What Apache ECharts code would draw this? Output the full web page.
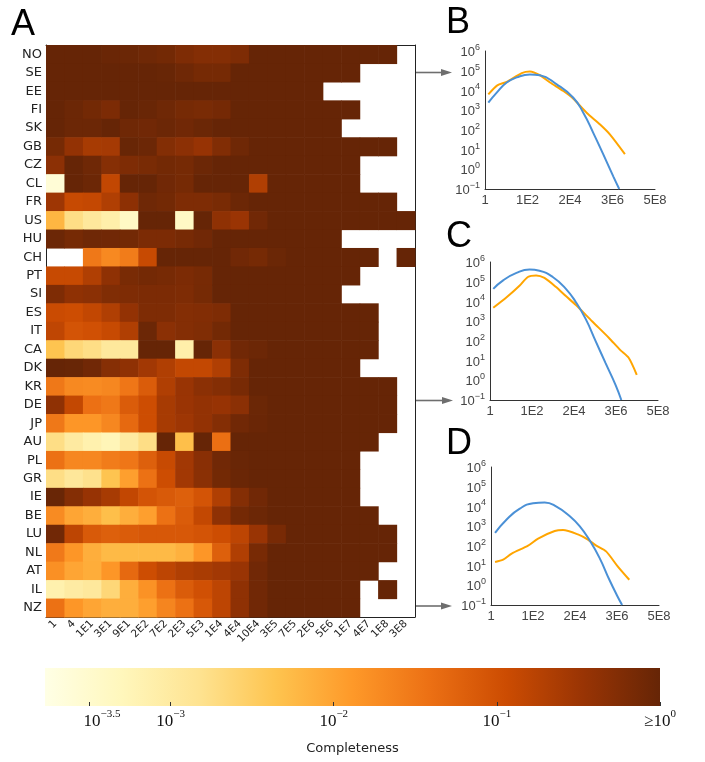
<!DOCTYPE html>
<html><head><meta charset="utf-8">
<script src="https://cdn.jsdelivr.net/npm/echarts@6/dist/echarts.min.js"></script>
<style>html,body{margin:0;padding:0;background:#fff}#c{width:705px;height:762px}</style>
</head><body><div id="c"></div>
<script>
// ---------- Panel A: heatmap (log10 completeness; null = no data) ----------
const countries = ['NO','SE','EE','FI','SK','GB','CZ','CL','FR','US','HU','CH','PT','SI','ES','IT','CA','DK','KR','DE','JP','AU','PL','GR','IE','BE','LU','NL','AT','IL','NZ'];
const sizeBins = ['1','4','1E1','3E1','9E1','2E2','7E2','2E3','5E3','1E4','4E4','10E4','3E5','7E5','2E6','5E6','1E7','4E7','1E8','3E8'];

const NO = [0,0,0,-0.04,-0.05,-0.08,-0.12,-0.22,-0.28,-0.28,-0.22,0,0,0,0,0,0,0,0];
const SE = [0,0,0,0,0,0,-0.02,-0.08,-0.15,-0.15,0,0,0,0,0,0,0];
const EE = [0,0,0,0,0,0,0,0,0,0,0,0,0,0,0];
const FI = [0,-0.06,-0.12,-0.2,0,-0.03,-0.08,-0.15,-0.18,-0.14,0,0,0,0,0,0,0];
const SK = [0,-0.06,-0.06,0,-0.08,-0.1,-0.06,-0.1,-0.05,0,0,0,0,0,0,0];
const GB = [-0.15,-0.42,-0.6,-0.58,-0.02,-0.06,-0.27,-0.35,-0.45,-0.25,-0.08,0,0,0,0,0,0,0,0];
const CZ = [-0.35,0,-0.08,-0.3,-0.22,-0.18,-0.12,-0.15,-0.06,0,0,0,0,0,0,0,0];
const CL = [-3.6,0,-0.06,-0.85,0,0,-0.1,-0.15,0,0,0,-0.68,0,0,0,0,0];
const FR = [-0.52,-0.9,-0.87,-0.68,-0.36,-0.08,-0.12,-0.22,-0.22,-0.18,-0.06,0,0,0,0,0,0,0,0];
const US = [-2.2,-2.75,-2.95,-3.1,-3.4,0,0,-3.4,0,-0.38,-0.48,-0.1,0,0,0,0,0,0,0,0];
const HU = [-0.06,-0.15,-0.08,-0.1,-0.12,-0.2,-0.2,-0.16,-0.1,0,0,0,0,0,0,0];
const CH = [null,null,-1.5,-1.7,-1.55,-0.9,0,0,0,0,-0.1,-0.15,-0.05,0,0,0,0,0,null,0];
const PT = [-0.9,-0.9,-0.68,-0.38,-0.18,-0.13,-0.16,-0.2,-0.16,0,0,0,0,0,0,0,0];
const SI = [-0.22,-0.38,-0.34,-0.24,-0.22,-0.2,-0.2,-0.22,-0.15,0,0,0,0,0,0,0];
const ES = [-0.92,-0.95,-0.85,-0.68,-0.42,-0.22,-0.22,-0.28,-0.26,-0.22,0,0,0,0,0,0,0,0];
const IT = [-0.82,-1.05,-1.0,-0.9,-0.68,-0.06,-0.34,-0.28,-0.24,-0.12,0,0,0,0,0,0,0,0];
const CA = [-2.36,-2.65,-2.75,-2.95,-2.95,0,0,-3.1,0,-0.34,-0.1,-0.06,0,0,0,0,0,0];
const DK = [0,-0.02,-0.1,-0.3,-0.38,-0.55,-0.68,-0.86,-0.86,-0.68,-0.22,0,0,0,0,0,0];
const KR = [-1.5,-1.7,-1.72,-1.68,-1.48,-1.15,-0.68,-0.47,-0.34,-0.28,-0.17,0,0,0,0,0,0,0,0];
const DE = [-0.38,-0.86,-1.41,-1.5,-1.15,-0.95,-0.6,-0.48,-0.42,-0.45,-0.34,-0.05,0,0,0,0,0,0,0];
const JP = [-1.5,-1.85,-1.85,-1.68,-1.32,-0.95,-0.6,-0.52,-0.42,-0.28,-0.1,-0.04,0,0,0,0,0,0,0];
const AU = [-2.75,-3.0,-3.15,-3.25,-3.0,-2.75,0,-2.3,0,-1.4,0,0,0,0,0,0,0,0];
const PL = [-1.42,-1.68,-1.68,-1.55,-1.48,-1.2,-0.9,-0.55,-0.32,-0.1,-0.03,0,0,0,0,0,0];
const GR = [-2.75,-2.93,-2.8,-2.36,-1.95,-1.42,-0.95,-0.55,-0.33,-0.12,-0.04,0,0,0,0,0,0];
const IE = [-0.03,-0.28,-0.45,-0.6,-0.85,-1.05,-1.12,-1.2,-1.05,-0.68,-0.28,-0.1,0,0,0,0,0];
const BE = [-1.72,-2.02,-2.12,-2.3,-2.12,-1.95,-1.42,-1.15,-0.86,-0.38,-0.13,-0.06,0,0,0,0,0,0];
const LU = [-0.1,-0.8,-1.12,-1.2,-1.15,-1.1,-1.1,-1.1,-1.05,-0.95,-0.8,-0.47,-0.17,0,0,0,0,0,0];
const NL = [-1.52,-1.85,-2.12,-2.25,-2.25,-2.25,-2.25,-2.15,-1.85,-1.2,-0.68,-0.17,0,0,0,0,0,0,0];
const AT = [-1.78,-2.02,-2.1,-1.85,-1.32,-0.95,-0.8,-0.68,-0.62,-0.55,-0.47,-0.1,0,0,0,0,0,0];
const IL = [-3.15,-3.02,-2.95,-2.65,-2.12,-1.8,-1.42,-1.15,-1.0,-0.8,-0.38,-0.1,0,0,0,0,0,null,0];
const NZ = [-1.42,-1.85,-2.02,-2.12,-2.12,-1.95,-1.65,-1.42,-1.1,-0.8,-0.38,-0.1,0,0,0,0,0];

const countryRows = [NO,SE,EE,FI,SK,GB,CZ,CL,FR,US,HU,CH,PT,SI,ES,IT,CA,DK,KR,DE,JP,AU,PL,GR,IE,BE,LU,NL,AT,IL,NZ];

// colour scale (log10 completeness) and colour bar ticks
const colorMin = -3.77;
const colorMax = 0;
const colorTicks = [-3.5, -3, -2, -1, 0];
const colorTickLabelShift = [0.08, 0, 0, 0, 0];
const ylOrBr = ['#ffffe5','#fff7bc','#fee391','#fec44f','#fe9929','#ec7014','#cc4c02','#993404','#662506'];

// ---------- Panels B, C, D: log10(size) vs log10(count) ----------
const bBlueX = [0.17,0.6,1.11,1.62,2.3,2.81,3.67,4.52,5.03,5.54,6.06,6.57,6.87];
const bBlueY = [3.38,3.89,4.40,4.66,4.81,4.77,4.31,3.63,2.87,1.85,0.74,-0.37,-1.0];
const bOrangeX = [0.17,0.63,1.11,1.88,2.3,2.81,3.33,4.01,4.52,5.2,5.89,6.4,7.16];
const bOrangeY = [3.80,4.26,4.43,4.88,4.96,4.77,4.40,3.97,3.58,2.87,2.27,1.76,0.77];

const cBlueX = [0.17,0.68,1.37,2.05,2.56,3.25,3.93,4.45,4.96,5.47,5.98,6.5,6.8];
const cBlueY = [4.64,5.07,5.45,5.62,5.56,5.24,4.64,3.96,3.10,1.99,0.88,-0.23,-1.0];
const cOrangeX = [0.17,0.86,1.54,1.96,2.39,2.82,3.42,3.93,4.45,5.3,6.15,6.75,7.18,7.6];
const cOrangeY = [3.68,4.21,4.81,5.24,5.32,5.19,4.73,4.27,3.82,2.98,2.16,1.53,1.14,0.28];

const dBlueX = [0.21,0.81,1.49,2.18,2.78,3.39,4.07,4.59,5.1,5.62,6.13,6.56,6.79];
const dBlueY = [2.66,3.34,3.89,4.16,4.20,3.99,3.51,3.00,2.29,1.39,0.28,-0.58,-1.0];
const dOrangeX = [0.21,0.63,1.07,1.92,2.44,3.3,3.73,4.5,5.02,5.45,5.96,6.56,7.16];
const dOrangeY = [1.18,1.30,1.61,2.01,2.37,2.75,2.80,2.58,2.32,2.01,1.72,0.96,0.28];

const sizeLogMax = 8.7;       // 5E8
const sizeTickStep = 2.175;   // 1, 1E2, 2E4, 3E6, 5E8
const countLogMin = -1, countLogMax = 6;

// ---------- build ----------
const heatData = [];
countryRows.forEach((row, r) => row.forEach((v, c) => { if (v !== null) heatData.push([c, r, v]); }));
const zip = (a, b) => a.map((v, i) => [v, b[i]]);

const SANS = 'Liberation Sans';
const supMinus = s => String(s).replace('-', '\u2212');
const sizeLabel = v => {
  if (Math.abs(v) < 1e-9) return '1';
  const e = Math.floor(v + 1e-9);
  const m = Math.floor(Math.pow(10, v - e) + 1e-9);
  return m + 'E' + e;
};
const countLabel = v => '{b|10}{s|' + supMinus(Math.round(v)) + '}';
const countRich = {
  b: {fontSize: 13, color: '#444', fontFamily: SANS, lineHeight: 16, verticalAlign: 'bottom'},
  s: {fontSize: 9, color: '#444', fontFamily: SANS, lineHeight: 9, verticalAlign: 'top'}
};

const lineGrids = [
  {left: 485, top: 51, width: 170, height: 138},
  {left: 490, top: 262, width: 168, height: 138},
  {left: 491, top: 467, width: 168, height: 138}
];

const grids = [{left: 46, top: 45, width: 369, height: 572}].concat(lineGrids).concat([{left: 45, top: 668, width: 615, height: 38}]);

const xAxes = [
  {type: 'category', gridIndex: 0, data: sizeBins, position: 'bottom',
   axisLine: {lineStyle: {color: '#222', width: 1}},
   axisTick: {inside: true, alignWithLabel: true, length: 4, lineStyle: {color: '#333'}},
   axisLabel: {rotate: 45, fontSize: 10.5, color: '#222', fontFamily: 'DejaVu Sans', margin: 5, interval: 0}},
  {type: 'category', gridIndex: 0, data: sizeBins, position: 'top',
   axisLine: {lineStyle: {color: '#222', width: 1}},
   axisTick: {inside: true, alignWithLabel: true, length: 4, lineStyle: {color: '#333'}},
   axisLabel: {show: false}}
];
const yAxes = [
  {type: 'category', gridIndex: 0, data: countries, inverse: true, position: 'left',
   axisLine: {lineStyle: {color: '#222', width: 1}},
   axisTick: {inside: true, alignWithLabel: true, length: 4, lineStyle: {color: '#333'}},
   axisLabel: {fontSize: 13, color: '#222', fontFamily: 'DejaVu Sans', margin: 4, interval: 0}},
  {type: 'category', gridIndex: 0, data: countries, inverse: true, position: 'right',
   axisLine: {lineStyle: {color: '#222', width: 1}},
   axisTick: {inside: true, alignWithLabel: true, length: 4, lineStyle: {color: '#333'}},
   axisLabel: {show: false}}
];
[1,2,3].forEach(g => {
  xAxes.push({type: 'value', gridIndex: g, min: 0, max: sizeLogMax, interval: sizeTickStep,
    axisLine: {onZero: false, lineStyle: {color: '#333', width: 1}}, axisTick: {show: false}, splitLine: {show: false},
    axisLabel: {formatter: sizeLabel, fontSize: 13, color: '#444', fontFamily: SANS, margin: 5, showMaxLabel: true, showMinLabel: true}});
  yAxes.push({type: 'value', gridIndex: g, min: countLogMin, max: countLogMax, interval: 1,
    axisLine: {show: true, onZero: false, lineStyle: {color: '#333', width: 1}}, axisTick: {show: false}, splitLine: {show: false},
    axisLabel: {formatter: countLabel, rich: countRich, margin: 5}});
});
// colour bar axes
const labelVals = colorTicks.map((t, i) => t + colorTickLabelShift[i]);
xAxes.push({type: 'value', gridIndex: 4, min: colorMin, max: colorMax, z: 10,
  axisLine: {show: false}, splitLine: {show: false},
  axisTick: {show: true, inside: true, length: 4, customValues: colorTicks, lineStyle: {color: '#333'}},
  axisLabel: {customValues: labelVals, margin: 3, showMaxLabel: true,
    formatter: v => {
      const t = colorTicks[labelVals.findIndex(l => Math.abs(l - v) < 1e-6)];
      return t === 0 ? '{b|\u226510}{s|0}' : '{b|10}{s|' + supMinus(t) + '}';
    },
    rich: {b: {fontFamily: 'Liberation Serif', fontSize: 17, color: '#111', lineHeight: 21, verticalAlign: 'bottom'},
           s: {fontFamily: 'Liberation Serif', fontSize: 11, color: '#111', lineHeight: 11, verticalAlign: 'top'}}},
  name: 'Completeness', nameLocation: 'middle', nameGap: 36,
  nameTextStyle: {fontFamily: 'DejaVu Sans', fontSize: 13, color: '#222'}});
yAxes.push({type: 'value', gridIndex: 4, min: 0, max: 1, show: false});

const series = [
  {type: 'custom', xAxisIndex: 0, yAxisIndex: 0, data: heatData, encode: {x: 0, y: 1},
   renderItem: (params, api) => {
     const c = api.coord([api.value(0), api.value(1)]);
     const s = api.size([1, 1]);
     return {type: 'rect', shape: {x: c[0] - s[0] / 2, y: c[1] - s[1] / 2, width: s[0] + 0.6, height: s[1] + 0.6},
       style: {fill: api.visual('color')}};
   }}
];
const pairs = [[bBlueX,bBlueY,bOrangeX,bOrangeY],[cBlueX,cBlueY,cOrangeX,cOrangeY],[dBlueX,dBlueY,dOrangeX,dOrangeY]];
pairs.forEach((p, i) => {
  series.push({type: 'line', xAxisIndex: i + 2, yAxisIndex: i + 2, data: zip(p[2], p[3]), symbol: 'none', smooth: 0.25,
    lineStyle: {color: '#ffa500', width: 2}, z: 3});
  series.push({type: 'line', xAxisIndex: i + 2, yAxisIndex: i + 2, data: zip(p[0], p[1]), symbol: 'none', smooth: true,
    lineStyle: {color: '#4a90d6', width: 2}, z: 4});
});
series.push({type: 'custom', xAxisIndex: 5, yAxisIndex: 5, data: [[colorMin, colorMax]],
  renderItem: (params, api) => {
    const p0 = api.coord([api.value(0), 1]);
    const p1 = api.coord([api.value(1), 0]);
    return {type: 'rect', shape: {x: p0[0], y: p0[1], width: p1[0] - p0[0], height: p1[1] - p0[1]},
      style: {fill: new echarts.graphic.LinearGradient(0, 0, 1, 0, ylOrBr.map((c, i) => ({offset: i / (ylOrBr.length - 1), color: c})))}};
  }});

const arrow = (x0, x1, y) => ([
  {type: 'line', shape: {x1: x0, y1: y, x2: x1 - 8, y2: y}, style: {stroke: '#6e6e6e', lineWidth: 1.6}},
  {type: 'polygon', shape: {points: [[x1, y], [x1 - 11, y - 3.5], [x1 - 11, y + 3.5]]}, style: {fill: '#6e6e6e'}}
]);

const chart = echarts.init(document.getElementById('c'), null, {renderer: 'canvas'});
chart.setOption({
  animation: false,
  backgroundColor: '#fff',
  grid: grids,
  xAxis: xAxes,
  yAxis: yAxes,
  visualMap: {type: 'continuous', min: colorMin, max: colorMax, dimension: 2, seriesIndex: 0, show: false, inRange: {color: ylOrBr}},
  series: series,
  graphic: [].concat(
    arrow(416, 452, 72.5), arrow(416, 453, 400.5), arrow(416, 452, 606),
    [{type: 'text', left: 11, top: 7, style: {text: 'A', font: '36px "Liberation Sans"', fill: '#000'}},
     {type: 'text', left: 446, top: 5, style: {text: 'B', font: '36px "Liberation Sans"', fill: '#000'}},
     {type: 'text', left: 446, top: 219, style: {text: 'C', font: '36px "Liberation Sans"', fill: '#000'}},
     {type: 'text', left: 446, top: 426, style: {text: 'D', font: '36px "Liberation Sans"', fill: '#000'}}]
  )
});
</script></body></html>
